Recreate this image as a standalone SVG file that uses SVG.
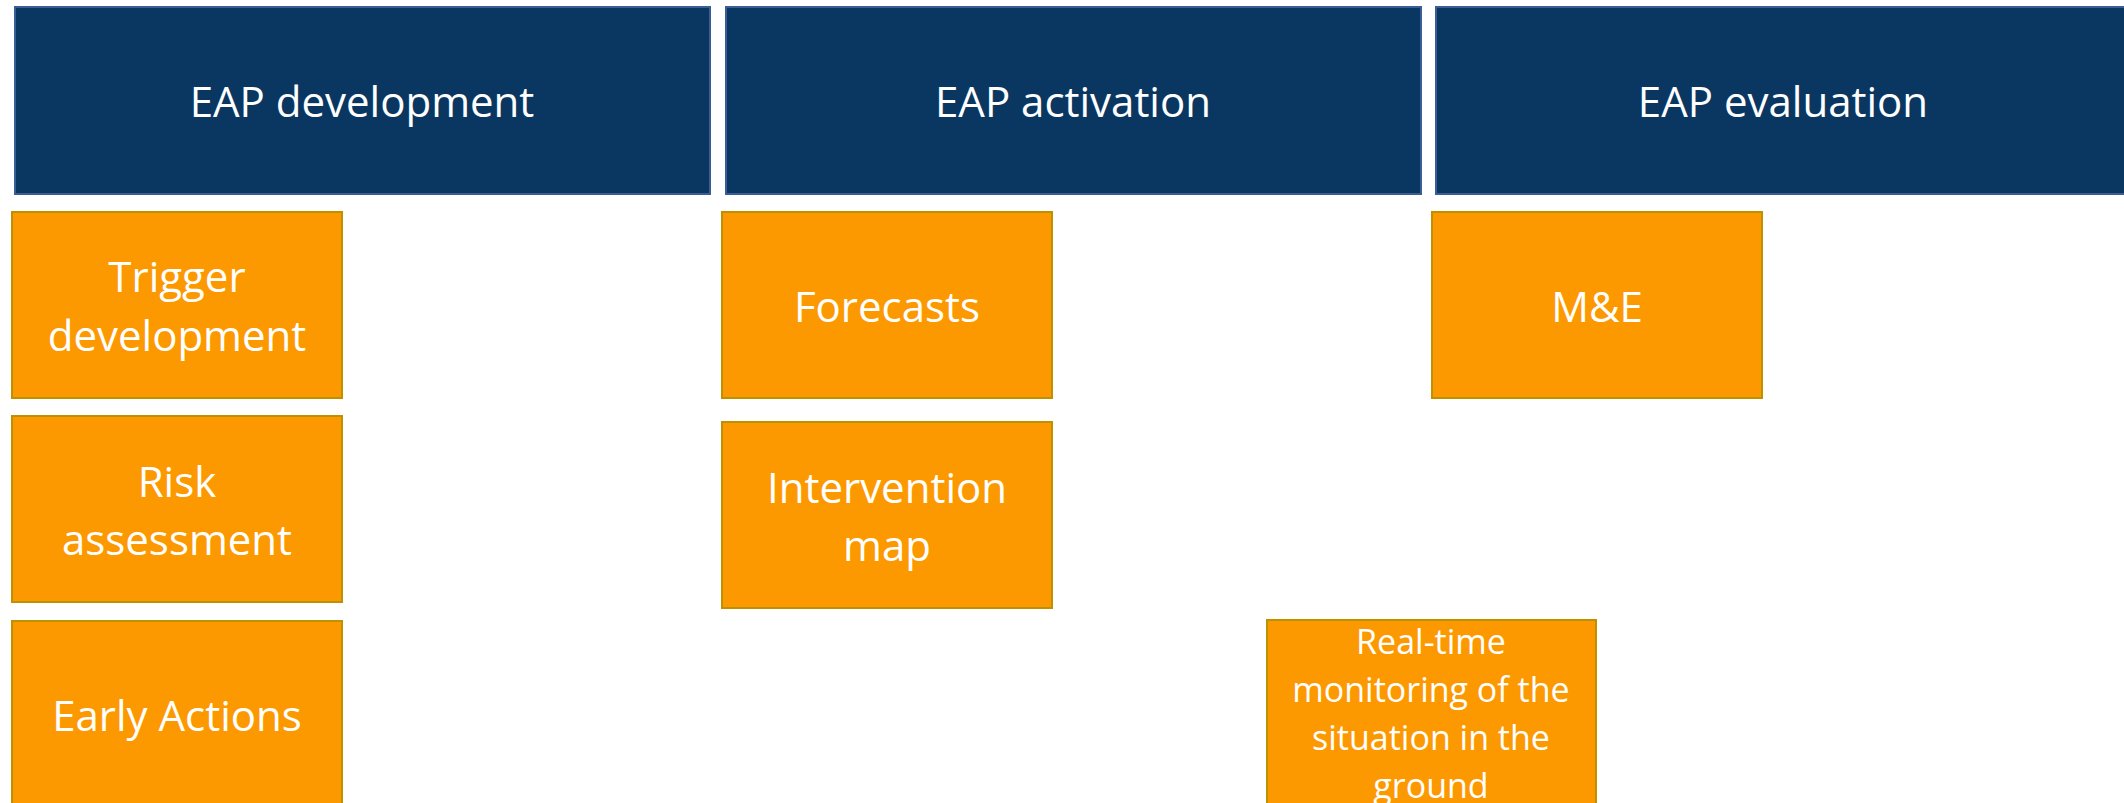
<svg xmlns="http://www.w3.org/2000/svg" width="2124" height="803" viewBox="0 0 2124 803">
  <style>
    .phase rect { fill: #0A3762; stroke: #3A5D96; stroke-width: 2; }
    .task rect { fill: #FD9900; stroke: #BF9000; stroke-width: 2; }
    text { fill: #FFFFFF; font-family: "Open Sans", "Liberation Sans", sans-serif; text-anchor: middle; }
    .big { font-size: 42px; }
    .small { font-size: 34px; }
  </style>
  <rect x="0" y="0" width="2124" height="803" fill="#FFFFFF"/>

  <!-- phase headers -->
  <g id="phase-development" class="phase">
    <rect x="15" y="7" width="695" height="187"/>
    <text class="big" x="362" y="117">EAP development</text>
  </g>
  <g id="phase-activation" class="phase">
    <rect x="726" y="7" width="695" height="187"/>
    <text class="big" x="1073" y="117">EAP activation</text>
  </g>
  <g id="phase-evaluation" class="phase">
    <rect x="1436" y="7" width="700" height="187"/>
    <text class="big" x="1783" y="117">EAP evaluation</text>
  </g>

  <!-- development tasks -->
  <g id="task-trigger" class="task">
    <rect x="12" y="212" width="330" height="186"/>
    <text class="big" x="177" y="292">Trigger</text>
    <text class="big" x="177" y="351">development</text>
  </g>
  <g id="task-risk" class="task">
    <rect x="12" y="416" width="330" height="186"/>
    <text class="big" x="177" y="497">Risk</text>
    <text class="big" x="177" y="555">assessment</text>
  </g>
  <g id="task-early-actions" class="task">
    <rect x="12" y="621" width="330" height="188"/>
    <text class="big" x="177" y="731">Early Actions</text>
  </g>

  <!-- activation tasks -->
  <g id="task-forecasts" class="task">
    <rect x="722" y="212" width="330" height="186"/>
    <text class="big" x="887" y="322">Forecasts</text>
  </g>
  <g id="task-intervention-map" class="task">
    <rect x="722" y="422" width="330" height="186"/>
    <text class="big" x="887" y="503">Intervention</text>
    <text class="big" x="887" y="561">map</text>
  </g>
  <g id="task-monitoring" class="task">
    <rect x="1267" y="620" width="329" height="190"/>
    <text class="small" x="1431" y="654">Real-time</text>
    <text class="small" x="1431" y="702">monitoring of the</text>
    <text class="small" x="1431" y="750">situation in the</text>
    <text class="small" x="1431" y="798">ground</text>
  </g>

  <!-- evaluation tasks -->
  <g id="task-me" class="task">
    <rect x="1432" y="212" width="330" height="186"/>
    <text class="big" x="1597" y="322">M&amp;E</text>
  </g>

  <!-- no connectors are drawn between the boxes -->
  <g id="connectors"/>
</svg>
